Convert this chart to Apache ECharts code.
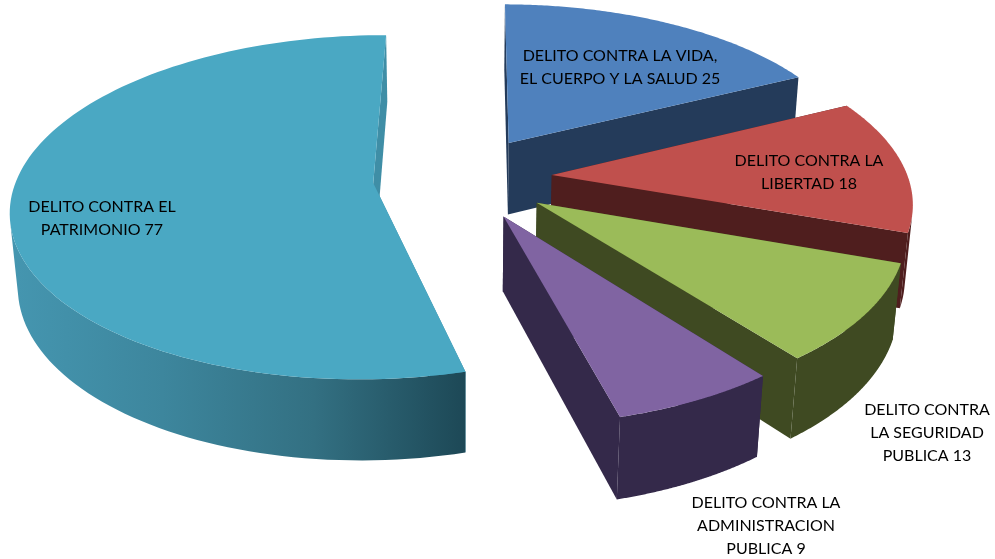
<!DOCTYPE html>
<html>
<head>
<meta charset="utf-8">
<style>html,body{margin:0;padding:0;background:#fff}#chart{width:995px;height:559px}</style>
<script src="https://cdn.jsdelivr.net/npm/echarts@6/dist/echarts.min.js"></script>
</head>
<body>
<div id="chart"></div>
<script>
var categories = ['DELITO CONTRA LA VIDA,\nEL CUERPO Y LA SALUD', 'DELITO CONTRA LA\nLIBERTAD', 'DELITO CONTRA\nLA SEGURIDAD\nPUBLICA', 'DELITO CONTRA LA\nADMINISTRACION\nPUBLICA', 'DELITO CONTRA EL\nPATRIMONIO'];
var values = [25, 18, 13, 9, 77];
var topColors = ['#4f81bd', '#c0504d', '#9bbb59', '#8064a2', '#4aa8c3'];
var wallColors = ['#243b5a', '#4f1e1e', '#3f4a22', '#34294a', '#3f8ea6'];
var bigWallColors = ['#1d4856', '#337082', '#3d869d', '#4596b0'];
var labelPos = [[620, 67], [809, 172], [927, 433], [766, 526], [102, 218]];

// pie camera, fitted against the corners of the slices in the picture
var centerX = 462.53, centerY = 177.58, scale = 356.23;
var explode = 0.2516, tilt = 0.4884, perspective = 0.1593, rotation = 0.0059, depth = 0.2362;

var total = values.reduce(function (a, b) { return a + b; }, 0);
var starts = [], ends = [], mids = [];
var acc = 0;
values.forEach(function (v, i) {
    starts[i] = acc / total * 2 * Math.PI;
    acc += v;
    ends[i] = acc / total * 2 * Math.PI;
    mids[i] = (starts[i] + ends[i]) / 2;
});

function project(i, r, th, z) {
    var t = th + rotation, m = mids[i] + rotation;
    var X = r * Math.sin(t) + explode * Math.sin(m);
    var Y = r * Math.cos(t) + explode * Math.cos(m);
    var Z = -z * depth;
    var v = Y * Math.sin(tilt) + Z * Math.cos(tilt);
    var w = Y * Math.cos(tilt) - Z * Math.sin(tilt);
    var s = scale / (1 + perspective * w);
    return [centerX + X * s, centerY - v * s];
}

function arc(i, z) {
    var out = [], n = 120;
    for (var k = 0; k <= n; k++) {
        out.push(project(i, 1, starts[i] + (ends[i] - starts[i]) * k / n, z));
    }
    return out;
}

function renderSlice(params, api) {
    var i = params.dataIndex;
    var top = arc(i, 0), bottom = arc(i, 1);
    var a0 = project(i, 0, 0, 0), a1 = project(i, 0, 0, 1);
    var last = top.length - 1;
    var children = [
        { type: 'polygon', shape: { points: [a0, top[0], bottom[0], a1] }, style: { fill: wallColors[i] } },
        { type: 'polygon', shape: { points: [a0, top[last], bottom[last], a1] }, style: { fill: wallColors[i] } }
    ];
    // outer wall: only the part of the arc turned to the viewer
    var first = -1, end = -1;
    for (var k = 0; k < last; k++) {
        var dx = top[k + 1][0] - top[k][0], dy = top[k + 1][1] - top[k][1];
        var ex = bottom[k][0] - top[k][0], ey = bottom[k][1] - top[k][1];
        if (dx * ey - dy * ex < 0) {
            if (first < 0) first = k;
            end = k + 1;
        }
    }
    if (first >= 0) {
        var wallFill = wallColors[i];
        if (i === 4) {
            wallFill = new echarts.graphic.LinearGradient(1, 0, 0, 0, bigWallColors.map(function (c, n) {
                return { offset: n / (bigWallColors.length - 1), color: c };
            }));
        }
        children.push({
            type: 'polygon',
            shape: { points: top.slice(first, end + 1).concat(bottom.slice(first, end + 1).reverse()) },
            style: { fill: wallFill }
        });
    }
    children.push({ type: 'polygon', shape: { points: [a0].concat(top) }, style: { fill: topColors[i] } });
    children.push({
        type: 'text',
        x: labelPos[i][0],
        y: labelPos[i][1],
        style: { text: categories[i] + ' ' + api.value(0), fill: '#000', font: '16px Lato', align: 'center', verticalAlign: 'middle', lineHeight: 23 }
    });
    return { type: 'group', children: children };
}

var myChart = echarts.init(document.getElementById('chart'));
myChart.setOption({
    animation: false,
    backgroundColor: '#fff',
    series: [{ type: 'custom', coordinateSystem: 'none', renderItem: renderSlice, data: values }]
});
</script>
</body>
</html>
